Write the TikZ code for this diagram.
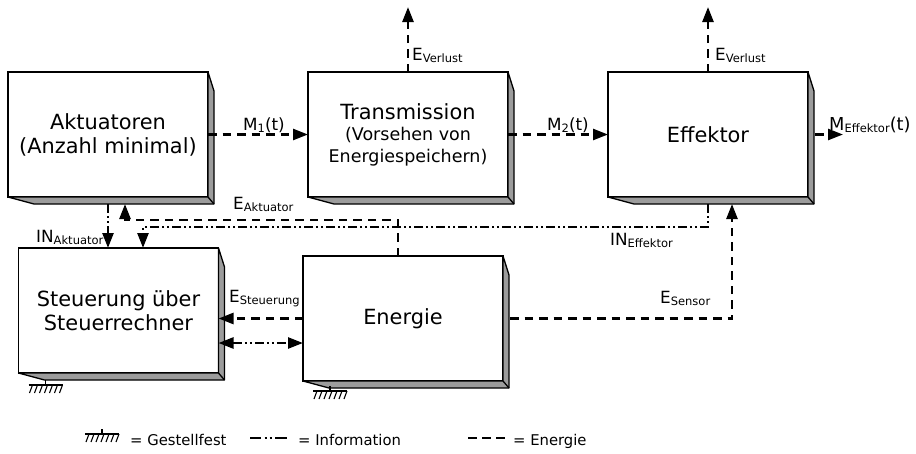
\documentclass[tikz,border=0pt]{standalone}
\usepackage{fontspec}
\setmainfont{DejaVu Sans}
\usetikzlibrary{arrows.meta,calc}
\definecolor{shadecol}{HTML}{9C9C9C}
\newcommand\sbs[1]{\raisebox{-2pt}{\fontsize{11.5}{12}\selectfont #1}}
\begin{document}
\begin{tikzpicture}[x=1pt,y=-1pt,
  box/.style={draw, line width=1.3pt, fill=white, minimum width=200pt, minimum height=125pt,
    inner sep=0pt, outer sep=0pt, align=center, font=\fontsize{20.9}{24}\selectfont},
  shadowst/.style={draw, line width=1.3pt, fill=shadecol, line join=round},
  energy/.style={line width=2.5pt, dash pattern=on 8.5pt off 6pt},
  info/.style={line width=2.5pt, dash pattern=on 9pt off 3pt on 2pt off 3pt on 2pt off 3pt},
  tip/.tip={Triangle[length=15pt,width=11pt]},
  arr/.style={-tip},
  lbl/.style={font=\fontsize{16.8}{18}\selectfont, inner sep=0pt, anchor=base west},
  leg/.style={font=\fontsize{14.8}{16}\selectfont, inner sep=0pt, anchor=base west},
  gnd/.pic={\draw[line width=1.1pt] (-17,0) -- (17,0) (0,0) -- (0,-5);
    \foreach \i in {0,...,6} \draw[line width=1.1pt] (-13+5*\i,0) -- ++(-3,8);}
]
\useasboundingbox (0,0) rectangle (916,453);

% boxes
\node[box] (akt) at (108,134.5) {Aktuatoren\\(Anzahl minimal)};
\node[box, font=\fontsize{20.9}{21.5}\selectfont] (trans) at (408,134.5)
  {Transmission\\\fontsize{17.5}{21}\selectfont (Vorsehen von\\\fontsize{17.5}{21}\selectfont Energiespeichern)};
\node[box] (eff) at (708,134.5) {Effektor};
\node[box] (steu) at (118.5,310.5) {Steuerung über\\Steuerrechner};
\node[box] (ener) at (403,318.5) {Energie};

\foreach \n in {akt,trans,eff,steu,ener}{
  \draw[shadowst] (\n.north east) -- ++(6,19) -- ($(\n.south east)+(6,7)$)
     -- ($(\n.south west)+(26,7)$) -- (\n.south west) -- (\n.south east) -- cycle;
  \draw[line width=1.3pt] (\n.south east) -- ++(6,7);
}

% ground symbols
\draw[line width=1.1pt] ($(steu.south west)+(27,7)$) -- ++(0,5);
\pic at (45.5,385) {gnd};
\draw[line width=1.1pt] ($(ener.south west)+(27,7)$) -- ++(0,4);
\pic at (330,391) {gnd};

% energy flows
\draw[energy,arr] (akt.east) -- (trans.west);
\draw[energy,arr] (trans.east) -- (eff.west);
\coordinate (v1) at (408,7);
\draw[energy,arr] (trans.north) -- (v1);
\coordinate (v2) at (708,7);
\draw[energy,arr] (eff.north) -- (v2);
\coordinate (me0) at ([xshift=7pt]eff.east);
\coordinate (me1) at (843,134.5);
\draw[energy,arr] (me0) -- (me1);

\coordinate (ea0) at ([xshift=-5pt]ener.north);
\coordinate (ea1) at (125,204);
\draw[energy,arr] (ea0) -- ++(0,-36) -| (ea1);

\draw[energy,arr] (ener.west) -- (ener.west -| steu.east);

\coordinate (es0) at ([xshift=7pt]ener.east);
\coordinate (es1) at ([xshift=24pt,yshift=-7pt]eff.south);
\draw[energy,arr] (es0) -| (es1);

% information flows
\coordinate (ie0) at ([yshift=-7pt]eff.south);
\coordinate (ie1) at ([xshift=24.5pt]steu.north);
\draw[info,arr] (ie0) -- ++(0,23) -| (ie1);

\coordinate (ia0) at ([yshift=-7pt]akt.south);
\draw[info,arr] (ia0) -- (akt.south |- steu.north);

\coordinate (d0) at ([yshift=-24.5pt]ener.west);
\coordinate (d1) at (d0 -| steu.east);
\draw[info,tip-tip] (d1) -- (d0);

% labels
\node[lbl] (lm1) at (243,130) {M\sbs{1}(t)};
\node[lbl] (lm2) at (547,130) {M\sbs{2}(t)};
\node[lbl] (lv1) at (412,60) {E\sbs{Verlust}};
\node[lbl] (lv2) at (715,60) {E\sbs{Verlust}};
\node[lbl, font=\fontsize{17.8}{18}\selectfont] (lme) at (829,130) {M\sbs{Effektor}(t)};
\node[lbl] (lea) at (233,209) {E\sbs{Aktuator}};
\node[lbl] (lia) at (36,242) {IN\sbs{Aktuator}};
\node[lbl] (lie) at (610,245) {IN\sbs{Effektor}};
\node[lbl] (les) at (229,302) {E\sbs{Steuerung}};
\node[lbl] (lse) at (660,303) {E\sbs{Sensor}};

% legend
\pic at (102,434) {gnd};
\node[leg] (lg1) at (130,445) {= Gestellfest};
\coordinate (li0) at (250,438);
\coordinate (li1) at (287,438);
\draw[line width=2.5pt, dash pattern=on 11pt off 3.5pt on 2pt off 3pt on 2pt off 3.5pt on 12pt] (li0) -- (li1);
\node[leg] (lg2) at (298,445) {= Information};
\coordinate (le0) at (468,438);
\coordinate (le1) at (505,438);
\draw[line width=2.5pt, dash pattern=on 9pt off 5pt] (le0) -- (le1);
\node[leg] (lg3) at (513,445) {= Energie};
\end{tikzpicture}
\end{document}
